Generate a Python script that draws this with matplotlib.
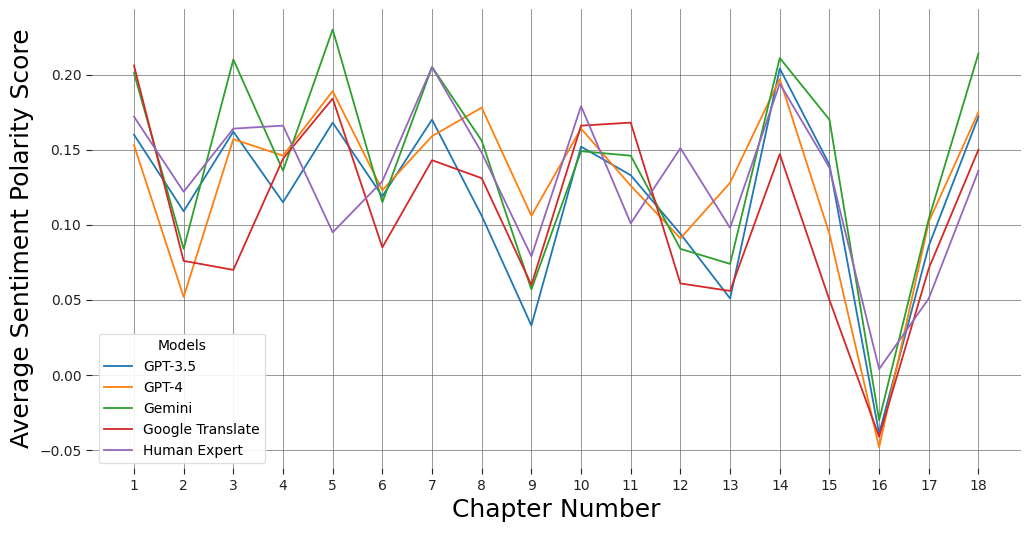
import matplotlib
matplotlib.use("Agg")
import matplotlib.pyplot as plt

# --- DATA ---
chapters = list(range(1, 19))

gpt35 = [0.160, 0.109, 0.162, 0.115, 0.168, 0.119, 0.170, 0.106, 0.033,
         0.152, 0.133, 0.094, 0.051, 0.204, 0.140, -0.039, 0.086, 0.172]
gpt4 = [0.153, 0.052, 0.157, 0.146, 0.189, 0.123, 0.159, 0.178, 0.106,
        0.164, 0.126, 0.091, 0.128, 0.197, 0.094, -0.048, 0.102, 0.175]
gemini = [0.201, 0.084, 0.210, 0.136, 0.230, 0.115, 0.205, 0.156, 0.057,
          0.149, 0.146, 0.084, 0.074, 0.211, 0.170, -0.030, 0.104, 0.214]
google = [0.206, 0.076, 0.070, 0.144, 0.184, 0.085, 0.143, 0.131, 0.060,
          0.166, 0.168, 0.061, 0.056, 0.147, 0.050, -0.041, 0.071, 0.150]
human = [0.172, 0.122, 0.164, 0.166, 0.095, 0.129, 0.205, 0.148, 0.079,
         0.179, 0.101, 0.151, 0.098, 0.194, 0.138, 0.004, 0.051, 0.136]

series = {
    "GPT-3.5": gpt35,
    "GPT-4": gpt4,
    "Gemini": gemini,
    "Google Translate": google,
    "Human Expert": human,
}
colors = ["tab:blue", "tab:orange", "tab:green", "tab:red", "tab:purple"]


def main():
    fig = plt.figure(figsize=(10.31, 5.35), dpi=100)
    ax = fig.add_axes([0.089, 0.125, 0.901, 0.859])

    for (name, vals), c in zip(series.items(), colors):
        ax.plot(chapters, vals, color=c, linewidth=1.3, label=name)

    ax.set_xticks(chapters)
    ax.tick_params(labelsize=10, colors="#222222", length=4, width=0.8)
    ax.grid(True, color="#666666", linewidth=0.6, alpha=0.8)
    ax.set_axisbelow(True)
    for s in ax.spines.values():
        s.set_visible(False)

    ax.set_xlabel("Chapter Number", fontsize=18)
    ax.set_ylabel("Average Sentiment Polarity Score", fontsize=18)

    ax.legend(title="Models", loc="lower left", fontsize=10, title_fontsize=10,
              framealpha=0.9, edgecolor="#dddddd", bbox_to_anchor=(0.0, -0.005))

    fig.savefig("out.png", dpi=100)
    plt.close(fig)


if __name__ == "__main__":
    main()
